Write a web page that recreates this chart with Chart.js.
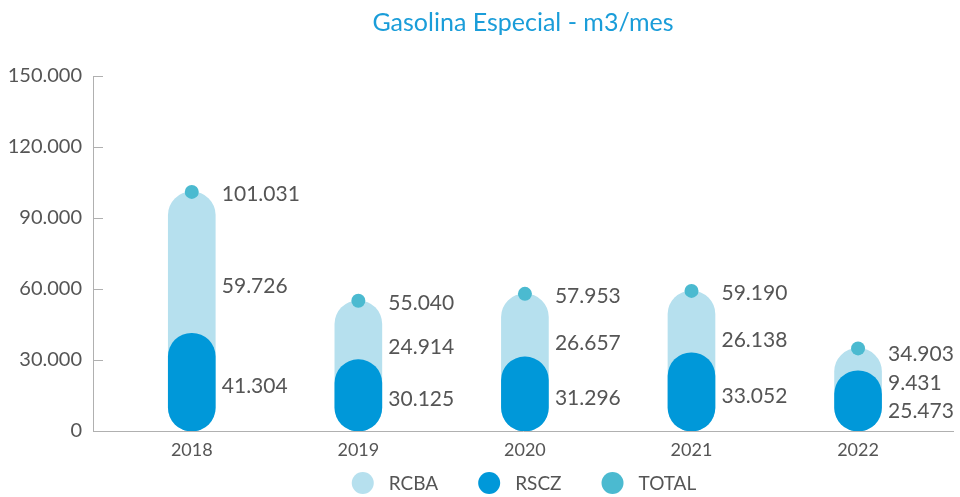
<!DOCTYPE html>
<html>
<head>
<meta charset="utf-8">
<title>Gasolina Especial - m3/mes</title>
<script src="https://cdn.jsdelivr.net/npm/chart.js@4/dist/chart.umd.min.js"></script>
<style>
  html, body { margin: 0; padding: 0; background: #fff; }
  #wrap { width: 960px; height: 497px; }
</style>
</head>
<body>
<div id="wrap"><canvas id="chart" width="960" height="497"></canvas></div>
<script>
var years = ['2018', '2019', '2020', '2021', '2022'];
var rcba = [59726, 24914, 26657, 26138, 9431];
var rscz = [41304, 30125, 31296, 33052, 25473];
var total = [101031, 55040, 57953, 59190, 34903];
var yTicks = [0, 30000, 60000, 90000, 120000, 150000];

var C_LIGHT = '#b6e0ee';
var C_DARK = '#0098d9';
var C_DOT = '#4bbad0';
var C_TEXT = '#555555';
var C_AXIS = '#b0b0b0';
var FONT = 'Lato, "Open Sans", sans-serif';

function fmt(n) {
  return String(n).replace(/\B(?=(\d{3})+(?!\d))/g, '.');
}

// short tick marks pointing into the plot from the y axis
var innerTicks = {
  id: 'innerTicks',
  afterDraw: function (chart) {
    var ctx = chart.ctx, ys = chart.scales.y, left = chart.chartArea.left;
    ctx.save();
    ctx.strokeStyle = C_AXIS;
    ctx.lineWidth = 1;
    yTicks.forEach(function (v) {
      if (!v) return;
      var y = Math.round(ys.getPixelForValue(v)) + 0.5;
      ctx.beginPath();
      ctx.moveTo(left, y);
      ctx.lineTo(left + 10, y);
      ctx.stroke();
    });
    ctx.restore();
  }
};

// value labels to the right of each pill
var valueLabels = {
  id: 'valueLabels',
  afterDatasetsDraw: function (chart) {
    var ctx = chart.ctx, xs = chart.scales.x, ys = chart.scales.y;
    ctx.save();
    ctx.font = '21px ' + FONT;
    ctx.fillStyle = C_TEXT;
    ctx.textAlign = 'left';
    ctx.textBaseline = 'middle';
    years.forEach(function (_, i) {
      var x = xs.getPixelForValue(i) + 30;
      var yT = ys.getPixelForValue(total[i]) + 2;
      var yS = ys.getPixelForValue(rscz[i] / 2) + 4;
      var yR;
      if (yS - yT < 60) {
        // short pill: spread the three labels evenly
        yT += 4;
        yS = yT + 57;
        yR = (yT + yS) / 2;
      } else {
        yR = (yT + yS) / 2 - 4;
      }
      ctx.fillText(fmt(total[i]), x, yT);
      ctx.fillText(fmt(rcba[i]), x, yR);
      ctx.fillText(fmt(rscz[i]), x, yS);
    });
    ctx.restore();
  }
};

// legend row at the bottom
var bottomLegend = {
  id: 'bottomLegend',
  afterDraw: function (chart) {
    var ctx = chart.ctx, sets = chart.data.datasets;
    ctx.save();
    ctx.font = '19px ' + FONT;
    ctx.textBaseline = 'middle';
    ctx.textAlign = 'left';
    var r = 11, gapText = 15, gapItem = 40;
    var widths = sets.map(function (d) { return 2 * r + gapText + ctx.measureText(d.label).width; });
    var totalW = widths.reduce(function (a, b) { return a + b; }, 0) + gapItem * (sets.length - 1);
    var x = (chart.chartArea.left + chart.chartArea.right) / 2 - totalW / 2 + 1;
    var y = 483;
    sets.forEach(function (d, i) {
      ctx.fillStyle = d.legendColor;
      ctx.beginPath();
      ctx.arc(x + r, y, r, 0, Math.PI * 2);
      ctx.fill();
      ctx.fillStyle = C_TEXT;
      ctx.fillText(d.label, x + 2 * r + gapText, y + 1);
      x += widths[i] + gapItem;
    });
    ctx.restore();
  }
};

var barCommon = {
  type: 'bar',
  barThickness: 47,
  borderRadius: 100,
  borderSkipped: false,
  grouped: false,
  borderWidth: 0
};

new Chart(document.getElementById('chart'), {
  data: {
    datasets: [
      Object.assign({}, barCommon, {
        label: 'RCBA',
        order: 3,
        legendColor: C_LIGHT,
        backgroundColor: C_LIGHT,
        data: years.map(function (_, i) { return { x: i, y: rscz[i] + rcba[i] }; })
      }),
      Object.assign({}, barCommon, {
        label: 'RSCZ',
        order: 2,
        legendColor: C_DARK,
        backgroundColor: C_DARK,
        data: years.map(function (_, i) { return { x: i, y: rscz[i] }; })
      }),
      {
        type: 'line',
        label: 'TOTAL',
        order: 1,
        legendColor: C_DOT,
        showLine: false,
        pointRadius: 7,
        pointBorderWidth: 0,
        pointBackgroundColor: C_DOT,
        data: years.map(function (_, i) { return { x: i, y: total[i] }; })
      }
    ]
  },
  options: {
    responsive: false,
    animation: false,
    events: [],
    layout: { padding: { left: 0, right: 5, top: 0, bottom: 36 } },
    plugins: {
      legend: { display: false },
      tooltip: { enabled: false },
      title: {
        display: true,
        text: 'Gasolina Especial - m3/mes',
        fullSize: false,
        color: '#1a9dd9',
        font: { family: FONT, size: 25, weight: 'normal' },
        padding: { top: 8, bottom: 38 }
      }
    },
    scales: {
      x: {
        type: 'linear',
        offset: false,
        min: -0.593,
        max: 4.57,
        grid: { display: false, drawTicks: false, offset: false },
        border: { color: C_AXIS, width: 1 },
        ticks: {
          stepSize: 1,
          includeBounds: false,
          padding: 8,
          maxRotation: 0,
          color: C_TEXT,
          font: { family: FONT, size: 18 },
          callback: function (v) { return Number.isInteger(v) && years[v] ? years[v] : ''; }
        },
        afterFit: function (s) { s.height = 30; }
      },
      y: {
        min: 0,
        max: 150000,
        grid: { display: false, drawTicks: false },
        border: { color: C_AXIS, width: 1 },
        ticks: {
          stepSize: 30000,
          padding: 11,
          color: C_TEXT,
          font: { family: FONT, size: 20 },
          callback: function (v) { return fmt(v); }
        },
        afterFit: function (s) { s.width = 93; }
      }
    }
  },
  plugins: [innerTicks, valueLabels, bottomLegend]
});
</script>
</body>
</html>
